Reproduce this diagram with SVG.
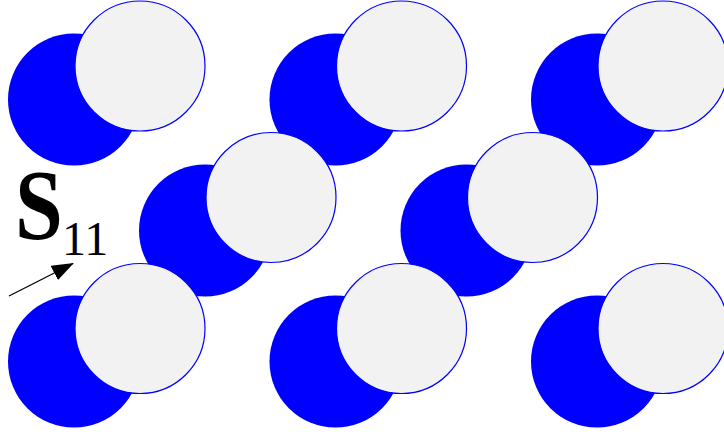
<svg xmlns="http://www.w3.org/2000/svg" width="724" height="432" viewBox="0 0 724 432">
<style>
.b{fill:#0000ff;stroke:none}
.g{fill:#f2f2f2;stroke:#0000ff;stroke-width:1.2}
.t{font-family:"Liberation Serif","Times New Roman",serif;fill:#000}
</style>
<defs>
<marker id="ah" markerWidth="22" markerHeight="16" refX="21" refY="8" orient="auto" markerUnits="userSpaceOnUse">
<path d="M0,0 L22,8 L0,16 Z" fill="#000"/>
</marker>
</defs>
<rect width="724" height="432" fill="#fff"/>
<g id="m11"><circle class="b" cx="74" cy="99.5" r="66"/><circle class="g" cx="140" cy="66" r="65"/></g>
<g id="m12"><circle class="b" cx="335.5" cy="99.5" r="66"/><circle class="g" cx="401.5" cy="66" r="65"/></g>
<g id="m13"><circle class="b" cx="597" cy="99.5" r="66"/><circle class="g" cx="663" cy="66" r="65"/></g>
<g id="m21"><circle class="b" cx="205" cy="230.5" r="66"/><circle class="g" cx="271" cy="197.5" r="65"/></g>
<g id="m22"><circle class="b" cx="466.5" cy="230.5" r="66"/><circle class="g" cx="532.5" cy="197.5" r="65"/></g>
<g id="m31"><circle class="b" cx="74" cy="361.5" r="66"/><circle class="g" cx="140" cy="328.5" r="65"/></g>
<g id="m32"><circle class="b" cx="335.5" cy="361.5" r="66"/><circle class="g" cx="401.5" cy="328.5" r="65"/></g>
<g id="m33"><circle class="b" cx="597" cy="361.5" r="66"/><circle class="g" cx="663" cy="328.5" r="65"/></g>
<g id="connectors">
<line x1="9" y1="296" x2="73" y2="263.5" stroke="#000" stroke-width="1.3" marker-end="url(#ah)"/>
</g>
<g id="label">
<text class="t" x="15" y="238" font-size="100" font-weight="bold" transform="translate(15 238) scale(0.86 1) translate(-15 -238)">S</text>
<text class="t" x="62" y="255" font-size="48">11</text>
</g>
</svg>
